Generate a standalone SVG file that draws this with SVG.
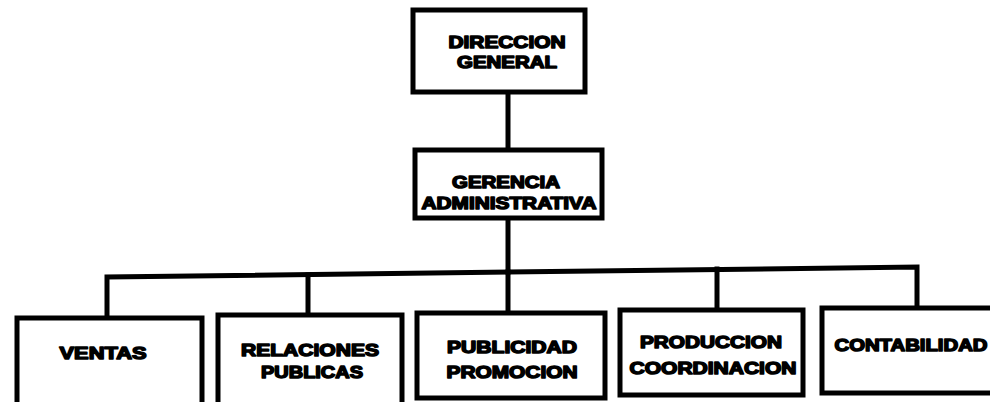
<svg xmlns="http://www.w3.org/2000/svg" width="990" height="402" viewBox="0 0 990 402">
<style>
.box{fill:#fff;stroke:#000;stroke-width:5;stroke-linejoin:miter}
.ln{fill:none;stroke:#000;stroke-width:5;stroke-linecap:square}
text{font-family:"Liberation Sans",Arial,sans-serif;font-weight:bold;font-size:17px;fill:#000;stroke:#000;stroke-width:1.5;stroke-linejoin:round;text-anchor:middle}
</style>
<rect width="990" height="402" fill="#fff"/>
<g id="connectors">
<line class="ln" x1="508" y1="92" x2="508" y2="150"/>
<line class="ln" x1="508" y1="218" x2="508" y2="272"/>
<polyline class="ln" points="107,318 107,277 917,267 917,307"/>
<line class="ln" x1="308" y1="275" x2="308" y2="315"/>
<line class="ln" x1="508" y1="272" x2="508" y2="313"/>
<line class="ln" x1="717" y1="269" x2="717" y2="310"/>
</g>
<g id="direccion">
<rect class="box" x="413" y="10" width="172" height="82"/>
<text x="507" y="48" textLength="117" lengthAdjust="spacingAndGlyphs">DIRECCION</text>
<text x="507" y="68" textLength="100" lengthAdjust="spacingAndGlyphs">GENERAL</text>
</g>
<g id="gerencia">
<rect class="box" x="415" y="150" width="187" height="68"/>
<text x="506" y="188" textLength="108" lengthAdjust="spacingAndGlyphs">GERENCIA</text>
<text x="509" y="209" textLength="175" lengthAdjust="spacingAndGlyphs">ADMINISTRATIVA</text>
</g>
<g id="ventas">
<rect class="box" x="17" y="318" width="185" height="100"/>
<text x="103" y="359" textLength="87" lengthAdjust="spacingAndGlyphs">VENTAS</text>
</g>
<g id="relaciones">
<rect class="box" x="218" y="315" width="184" height="100"/>
<text x="310" y="356" textLength="138" lengthAdjust="spacingAndGlyphs">RELACIONES</text>
<text x="312" y="378" textLength="102" lengthAdjust="spacingAndGlyphs">PUBLICAS</text>
</g>
<g id="publicidad">
<rect class="box" x="417" y="313" width="188" height="85"/>
<text x="512" y="353" textLength="130" lengthAdjust="spacingAndGlyphs">PUBLICIDAD</text>
<text x="512" y="378" textLength="131" lengthAdjust="spacingAndGlyphs">PROMOCION</text>
</g>
<g id="produccion">
<rect class="box" x="620" y="310" width="183" height="85"/>
<text x="711" y="348" textLength="142" lengthAdjust="spacingAndGlyphs">PRODUCCION</text>
<text x="713" y="374" textLength="167" lengthAdjust="spacingAndGlyphs">COORDINACION</text>
</g>
<g id="contabilidad">
<rect class="box" x="822" y="308" width="190" height="85"/>
<text x="911" y="351" textLength="153" lengthAdjust="spacingAndGlyphs">CONTABILIDAD</text>
</g>
</svg>
